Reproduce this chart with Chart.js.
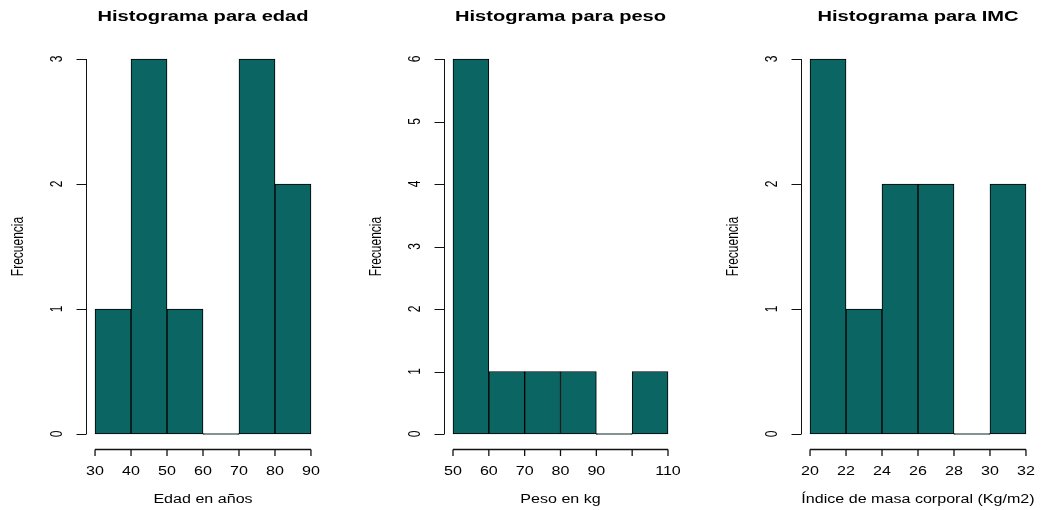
<!DOCTYPE html>
<html>
<head>
<meta charset="utf-8">
<style>
  html, body { margin: 0; padding: 0; background: #fff; }
  #wrap { position: relative; width: 1042px; height: 510px; overflow: hidden; }
  #wrap canvas { position: absolute; left: 0; top: 0; }
</style>
<script src="https://cdn.jsdelivr.net/npm/chart.js@4.4.1/dist/chart.umd.min.js"></script>
</head>
<body>
<div id="wrap">
  <canvas id="c1" width="1042" height="510"></canvas>
  <canvas id="c2" width="1042" height="510"></canvas>
  <canvas id="c3" width="1042" height="510"></canvas>
</div>
<script>
// Histogram bin edges and counts
const edadBreaks = [30, 40, 50, 60, 70, 80, 90];
const edadCounts = [1, 3, 1, 0, 3, 2];
const edadXTicks = [30, 40, 50, 60, 70, 80, 90];
const edadXLabels = ['30', '40', '50', '60', '70', '80', '90'];
const edadYTicks = [0, 1, 2, 3];

const pesoBreaks = [50, 60, 70, 80, 90, 100, 110];
const pesoCounts = [6, 1, 1, 1, 0, 1];
const pesoXTicks = [50, 60, 70, 80, 90, 100, 110];
const pesoXLabels = ['50', '60', '70', '80', '90', '', '110'];
const pesoYTicks = [0, 1, 2, 3, 4, 5, 6];

const imcBreaks = [20, 22, 24, 26, 28, 30, 32];
const imcCounts = [3, 1, 2, 2, 0, 2];
const imcXTicks = [20, 22, 24, 26, 28, 30, 32];
const imcXLabels = ['20', '22', '24', '26', '28', '30', '32'];
const imcYTicks = [0, 1, 2, 3];

const titles = ['Histograma para edad', 'Histograma para peso', 'Histograma para IMC'];
const xTitles = ['Edad en años', 'Peso en kg', 'Índice de masa corporal (Kg/m2)'];
const yTitle = 'Frecuencia';

const FILL = '#0B6563';
const SX = 1.34;            // horizontal text stretch
const FONT = '"Liberation Sans", Arial, Helvetica, sans-serif';

function drawText(ctx, text, x, y, rot, font) {
  ctx.save();
  ctx.translate(x, y);
  ctx.scale(SX, 1);
  ctx.rotate(rot);
  ctx.font = font;
  ctx.fillStyle = '#000';
  ctx.textAlign = 'center';
  ctx.textBaseline = 'alphabetic';
  ctx.fillText(text, 0, 0);
  ctx.restore();
}

// Base-graphics style axes, drawn outside the plotting region
const rAxes = {
  id: 'rAxes',
  afterDraw(chart, args, o) {
    const ctx = chart.ctx;
    const xs = chart.scales.x, ys = chart.scales.y;
    const a = chart.chartArea;
    ctx.save();
    ctx.strokeStyle = '#111';

    // x axis
    const xb = Math.round(a.bottom) + 0.5;
    const x0 = xs.getPixelForValue(o.xTicks[0]);
    const x1 = xs.getPixelForValue(o.xTicks[o.xTicks.length - 1]);
    ctx.beginPath();
    ctx.moveTo(x0, xb); ctx.lineTo(x1, xb);
    o.xTicks.forEach(v => {
      const px = xs.getPixelForValue(v);
      ctx.moveTo(px, xb); ctx.lineTo(px, xb + 6.5);
    });
    ctx.lineWidth = 1.3;
    ctx.stroke();
    o.xTicks.forEach((v, i) => {
      if (o.xLabels[i]) drawText(ctx, o.xLabels[i], xs.getPixelForValue(v), 475, 0, '12px ' + FONT);
    });

    // y axis
    const yl = Math.round(a.left) + 0.5;
    const y0 = ys.getPixelForValue(o.yTicks[0]);
    const y1 = ys.getPixelForValue(o.yTicks[o.yTicks.length - 1]);
    ctx.beginPath();
    ctx.moveTo(yl, y0); ctx.lineTo(yl, y1);
    o.yTicks.forEach(v => {
      const py = Math.round(ys.getPixelForValue(v)) + 0.5;
      ctx.moveTo(yl, py); ctx.lineTo(yl - 10, py);
    });
    ctx.lineWidth = 1;
    ctx.stroke();
    o.yTicks.forEach(v => {
      drawText(ctx, String(v), a.left - 24.5, ys.getPixelForValue(v), -Math.PI / 2, '12px ' + FONT);
    });

    // titles
    const cx = (a.left + a.right) / 2;
    const cy = (a.top + a.bottom) / 2;
    drawText(ctx, o.title, cx, 21, 0, 'bold 15px ' + FONT);
    drawText(ctx, o.xTitle, cx, 503, 0, '12px ' + FONT);
    drawText(ctx, yTitle, a.left - 63.5, cy, -Math.PI / 2, '12px ' + FONT);
    ctx.restore();
  }
};

function histogram(id, breaks, counts, xTicks, xLabels, yTicks, title, xTitle, area) {
  const pts = counts.map((c, i) => ({ x: (breaks[i] + breaks[i + 1]) / 2, y: c }));
  const xr = breaks[breaks.length - 1] - breaks[0];
  const yMax = yTicks[yTicks.length - 1];
  new Chart(document.getElementById(id), {
    type: 'bar',
    data: {
      datasets: [{
        data: pts,
        backgroundColor: FILL,
        borderColor: '#000',
        borderWidth: 1,
        borderSkipped: false,
        minBarLength: 1,
        barPercentage: 1,
        categoryPercentage: 1
      }]
    },
    options: {
      responsive: false,
      animation: false,
      events: [],
      layout: { padding: { left: area.left, right: 1042 - area.right, top: area.top, bottom: 510 - area.bottom } },
      scales: {
        x: {
          type: 'linear',
          display: false,
          offset: false,
          min: breaks[0] - 0.04 * xr,
          max: breaks[breaks.length - 1] + 0.04 * xr,
          afterBuildTicks: s => { s.ticks = xTicks.map(v => ({ value: v })); }
        },
        y: {
          type: 'linear',
          display: false,
          min: -0.04 * yMax,
          max: yMax * 1.04
        }
      },
      plugins: {
        legend: { display: false },
        tooltip: { enabled: false },
        title: { display: false },
        rAxes: { xTicks, xLabels, yTicks, title, xTitle }
      }
    },
    plugins: [rAxes]
  });
}

histogram('c1', edadBreaks, edadCounts, edadXTicks, edadXLabels, edadYTicks, titles[0], xTitles[0],
  { left: 86.4, right: 319.6, top: 44, bottom: 449 });
histogram('c2', pesoBreaks, pesoCounts, pesoXTicks, pesoXLabels, pesoYTicks, titles[1], xTitles[1],
  { left: 444.4, right: 676.6, top: 44, bottom: 449 });
histogram('c3', imcBreaks, imcCounts, imcXTicks, imcXLabels, imcYTicks, titles[2], xTitles[2],
  { left: 801.4, right: 1034.6, top: 44, bottom: 449 });
</script>
</body>
</html>
